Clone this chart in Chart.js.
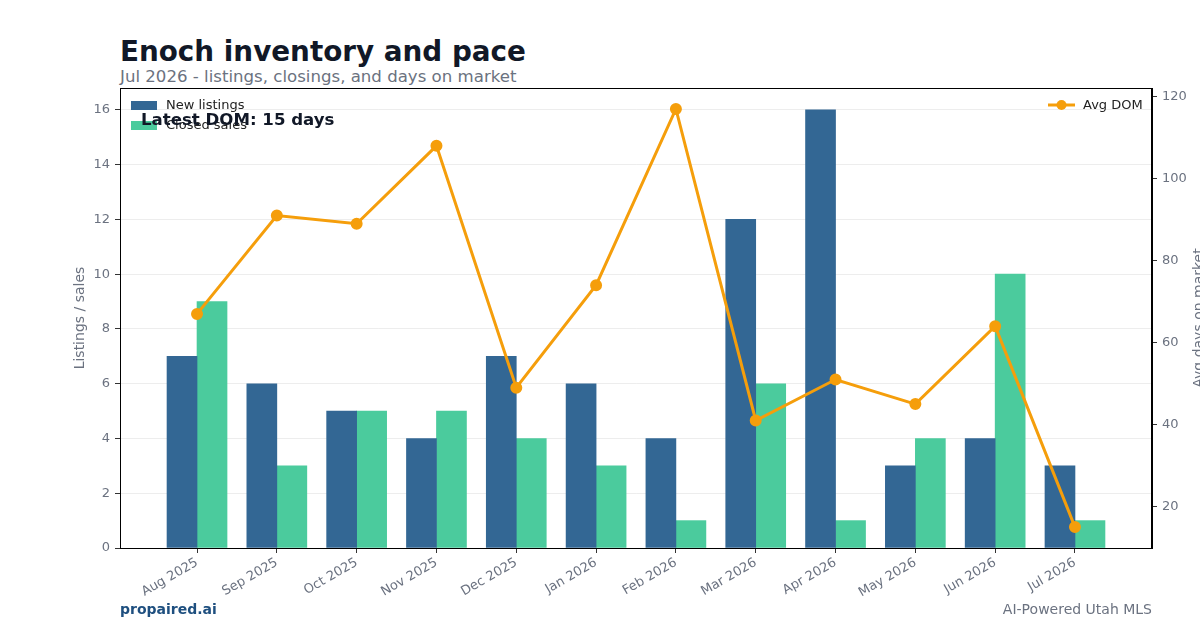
<!DOCTYPE html>
<html>
<head>
<meta charset="UTF-8">
<title>Enoch inventory and pace</title>
<script src="https://cdn.jsdelivr.net/npm/chart.js"></script>
<style>
  html, body { margin: 0; padding: 0; background: #fff; }
  body { width: 1200px; height: 630px; position: relative; overflow: hidden; font-family: "DejaVu Sans", sans-serif; }
  #chart { position: absolute; left: 0; top: 0; }
  .txt { position: absolute; white-space: nowrap; }
  #title { left: 120px; top: 35px; font-size: 27.8px; font-weight: bold; color: #111827; }
  #subtitle { left: 120px; top: 67px; font-size: 16.6px; color: #6b7280; }
  #brand { left: 120px; top: 601px; font-size: 14px; font-weight: bold; color: #1e4f7f; }
  #tagline { right: 48px; top: 601px; font-size: 14px; color: #6b7280; }
</style>
</head>
<body>
<div class="txt" id="title">Enoch inventory and pace</div>
<div class="txt" id="subtitle">Jul 2026 - listings, closings, and days on market</div>
<canvas id="chart" width="1206" height="630"></canvas>
<div class="txt" id="brand">propaired.ai</div>
<div class="txt" id="tagline">AI-Powered Utah MLS</div>
<script>
const months = ['Aug 2025', 'Sep 2025', 'Oct 2025', 'Nov 2025', 'Dec 2025', 'Jan 2026',
                'Feb 2026', 'Mar 2026', 'Apr 2026', 'May 2026', 'Jun 2026', 'Jul 2026'];
const newListings = [7, 6, 5, 4, 7, 6, 4, 12, 16, 3, 4, 3];
const closedSales = [9, 3, 5, 5, 4, 3, 1, 6, 1, 4, 10, 1];
const avgDom = [67, 91, 89, 108, 49, 74, 117, 41, 51, 45, 64, 15];
const leftTicks = [0, 2, 4, 6, 8, 10, 12, 14, 16];
const rightTicks = [20, 40, 60, 80, 100, 120];

const gray = '#6b7280';
const pts = (arr) => arr.map((v, i) => ({ x: i, y: v }));

// matplotlib-like frame, right axis title, two legends and the annotation
const extras = {
  id: 'extras',
  afterDraw(chart) {
    const { ctx, chartArea: a } = chart;
    const ds = chart.data.datasets;
    ctx.save();
    ctx.strokeStyle = '#000';
    ctx.lineWidth = 1;
    ctx.strokeRect(a.left + 0.5, a.top + 0.5, a.right - a.left - 1, a.bottom - a.top);

    ctx.save();
    ctx.translate(1199, (a.top + a.bottom) / 2);
    ctx.rotate(-Math.PI / 2);
    ctx.font = '14px "DejaVu Sans"';
    ctx.fillStyle = gray;
    ctx.textAlign = 'center';
    ctx.textBaseline = 'middle';
    ctx.fillText('Avg days on market', 0, 0);
    ctx.restore();

    ctx.font = '13px "DejaVu Sans"';
    ctx.textBaseline = 'middle';
    [ds[0], ds[1]].forEach((d, i) => {
      const y = a.top + 17 + i * 20;
      ctx.fillStyle = d.backgroundColor;
      ctx.fillRect(a.left + 11, y - 4, 26, 9);
      ctx.fillStyle = '#222';
      ctx.fillText(d.label, a.left + 46, y + 1);
    });

    const ln = ds[2];
    const ly = a.top + 17;
    ctx.strokeStyle = ln.borderColor;
    ctx.lineWidth = 3;
    ctx.beginPath();
    ctx.moveTo(a.right - 104, ly);
    ctx.lineTo(a.right - 77, ly);
    ctx.stroke();
    ctx.fillStyle = ln.borderColor;
    ctx.beginPath();
    ctx.arc(a.right - 90.5, ly, 5, 0, Math.PI * 2);
    ctx.fill();
    ctx.fillStyle = '#222';
    ctx.fillText(ln.label, a.right - 69, ly + 1);

    ctx.font = 'bold 16.6px "DejaVu Sans"';
    ctx.fillStyle = '#111827';
    ctx.fillText('Latest DOM: ' + avgDom[avgDom.length - 1] + ' days', a.left + 21, a.top + 33);
    ctx.restore();
  }
};

new Chart(document.getElementById('chart'), {
  type: 'bar',
  data: {
    datasets: [
      { label: 'New listings', data: pts(newListings), backgroundColor: '#336794', barThickness: 30, yAxisID: 'y', order: 2 },
      { label: 'Closed sales', data: pts(closedSales), backgroundColor: '#4bcb9d', barThickness: 30, yAxisID: 'y', order: 2 },
      { type: 'line', label: 'Avg DOM', data: pts(avgDom), borderColor: '#f59e0b', backgroundColor: '#f59e0b',
        borderWidth: 3, pointRadius: 4.5, pointHoverRadius: 4.5, tension: 0, yAxisID: 'y2', order: 1 }
    ]
  },
  options: {
    responsive: false,
    animation: false,
    layout: { padding: { top: 88, left: 72, right: 0, bottom: 0 } },
    plugins: { legend: { display: false }, tooltip: { enabled: false } },
    scales: {
      x: {
        type: 'linear',
        offset: false,
        min: -0.965,
        max: 11.965,
        afterBuildTicks: (axis) => { axis.ticks = months.map((_, i) => ({ value: i })); },
        afterFit: (s) => { s.height = 82; },
        grid: { display: true, drawOnChartArea: false, offset: false, tickLength: 5, tickColor: '#333' },
        border: { color: '#000' },
        ticks: {
          autoSkip: false, minRotation: 30, maxRotation: 30, color: gray, padding: 2,
          font: { family: 'DejaVu Sans', size: 13 },
          callback: (v) => months[v]
        }
      },
      y: {
        position: 'left',
        min: 0,
        max: 16.8,
        z: 1,
        afterBuildTicks: (axis) => { axis.ticks = leftTicks.map(v => ({ value: v })); },
        afterFit: (s) => { s.width = 48; },
        grid: { color: 'rgba(215,215,215,0.45)', tickLength: 5, tickColor: '#333' },
        border: { color: '#000' },
        ticks: { color: gray, padding: 5, font: { family: 'DejaVu Sans', size: 13 } },
        title: { display: true, text: 'Listings / sales', color: gray, padding: { top: 0, bottom: 0 },
                 font: { family: 'DejaVu Sans', size: 14 } }
      },
      y2: {
        position: 'right',
        min: 9.9,
        max: 122.1,
        afterBuildTicks: (axis) => { axis.ticks = rightTicks.map(v => ({ value: v })); },
        afterFit: (s) => { s.width = 54; },
        grid: { drawOnChartArea: false, tickLength: 5, tickColor: '#333' },
        border: { color: '#000' },
        ticks: { color: gray, padding: 5, font: { family: 'DejaVu Sans', size: 13 } }
      }
    }
  },
  plugins: [extras]
});
</script>
</body>
</html>
